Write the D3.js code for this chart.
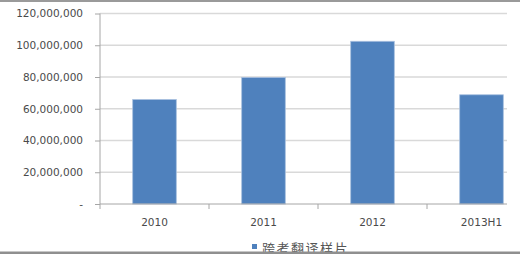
<!DOCTYPE html>
<html><head><meta charset="utf-8">
<script src="https://cdn.jsdelivr.net/npm/d3@7"></script>
<style>body{margin:0;background:#fff}svg{display:block}</style>
</head><body>
<script>
const categories = ["2010", "2011", "2012", "2013H1"];
const values = [65800000, 79700000, 102500000, 68800000];
const yTicks = [0, 20000000, 40000000, 60000000, 80000000, 100000000, 120000000];
const seriesName = "跨考翻译样片";

const W = 520, H = 258;
const svg = d3.select("body").append("svg").attr("width", W).attr("height", H);
const x = d3.scaleBand().domain(categories).range([100, 536]).paddingInner(0.6).paddingOuter(0.3);
const y = d3.scaleLinear().domain([0, 120000000]).range([204, 13.5]);
const gridRight = 507;
const fmt = d => d === 0 ? "-" : d3.format(",")(d);
const font = "Tahoma, Verdana, 'DejaVu Sans', sans-serif";

// gridlines
svg.selectAll(".grid").data(yTicks.filter(d => d > 0)).enter().append("line")
  .attr("x1", 100).attr("x2", gridRight).attr("y1", d => y(d)).attr("y2", d => y(d))
  .attr("stroke", "#d9d9d9").attr("stroke-width", 1.6);

// bars
svg.selectAll(".bar").data(values).enter().append("rect")
  .attr("x", (d, i) => x(categories[i]))
  .attr("width", x.bandwidth())
  .attr("y", d => y(d)).attr("height", d => y(0) - y(d))
  .attr("fill", "#4f81bd").attr("stroke", "#a7bfdf").attr("stroke-width", 0.8);

// y axis
const yAxis = d3.axisLeft(y).tickValues(yTicks).tickFormat(fmt).tickSize(5).tickPadding(12);
const gy = svg.append("g").attr("transform", "translate(100,0)").call(yAxis);
gy.select(".domain").attr("stroke", "#a6a6a6").attr("d", "M0,204V13.5");
gy.selectAll(".tick line").attr("stroke", "#a6a6a6");
gy.selectAll(".tick text").attr("fill", "#4a4a4a").style("font-family", font).style("font-size", "10.5px");

// x axis
const xAxis = d3.axisBottom(x).tickSize(0).tickPadding(15);
const gx = svg.append("g").attr("transform", "translate(0,204)").call(xAxis);
gx.select(".domain").attr("stroke", "#a6a6a6").attr("d", "M100,0H" + gridRight);
gx.selectAll(".tick text").attr("fill", "#4a4a4a").style("font-family", font).style("font-size", "10.5px");
// band boundary ticks
svg.selectAll(".bt").data(categories).enter().append("line")
  .attr("x1", (c, i) => i === 0 ? 100 : x(c) - (x.step() - x.bandwidth()) / 2)
  .attr("x2", (c, i) => i === 0 ? 100 : x(c) - (x.step() - x.bandwidth()) / 2)
  .attr("y1", 204).attr("y2", 209).attr("stroke", "#a6a6a6");

// legend
svg.append("rect").attr("x", 252).attr("y", 244).attr("width", 5).attr("height", 5).attr("fill", "#4f81bd");
svg.append("text").attr("x", 262).attr("y", 253).text(seriesName)
  .attr("fill", "#555").style("font-family", "'Noto Sans CJK SC', sans-serif").style("font-size", "13px")
  .style("letter-spacing", "1.5px");

// frame lines
svg.append("rect").attr("x", 0).attr("y", 0).attr("width", W).attr("height", 2).attr("fill", "#9a9a9a");
svg.append("rect").attr("x", 0).attr("y", 251.5).attr("width", W).attr("height", 2.5).attr("fill", "#8f8f8f");
svg.append("rect").attr("x", 0).attr("y", 254).attr("width", W).attr("height", 4).attr("fill", "#fff");
</script>
</body></html>
